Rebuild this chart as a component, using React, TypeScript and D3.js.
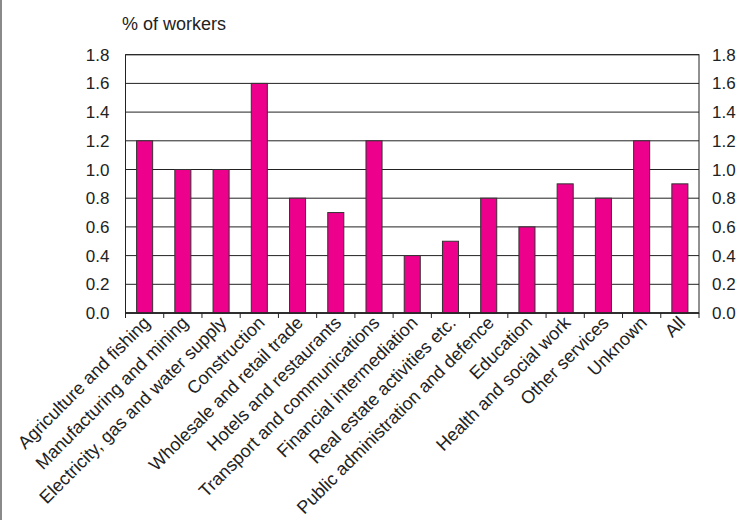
import React from "react";
import * as d3 from "d3";

const categories = [
  "Agriculture and fishing",
  "Manufacturing and mining",
  "Electricity, gas and water supply",
  "Construction",
  "Wholesale and retail trade",
  "Hotels and restaurants",
  "Transport and communications",
  "Financial intermediation",
  "Real estate activities etc.",
  "Public administration and defence",
  "Education",
  "Health and social work",
  "Other services",
  "Unknown",
  "All",
];
const values = [1.2, 1.0, 1.0, 1.6, 0.8, 0.7, 1.2, 0.4, 0.5, 0.8, 0.6, 0.9, 0.8, 1.2, 0.9];
const yTicks = [0, 0.2, 0.4, 0.6, 0.8, 1.0, 1.2, 1.4, 1.6, 1.8];
const yTitle = "% of workers";

const W = 745;
const H = 520;
const left = 125.5;
const right = 699;
const top = 54.7;
const bottom = 313;

export default function App() {
  const x = d3.scaleBand<string>().domain(categories).range([left, right]).paddingInner(0.58).paddingOuter(0.29);
  const xb = d3.scaleBand<string>().domain(categories).range([left, right]);
  const y = d3.scaleLinear().domain([0, 1.8]).range([bottom, top]);
  const font = "'Liberation Sans', Arial, sans-serif";
  return (
    <svg width={W} height={H} style={{ position: "absolute", left: 0, top: 0 }} fontFamily={font}>
      <rect x={0} y={0} width={W} height={H} fill="#fff" />
      <line x1={1} y1={0} x2={1} y2={H} stroke="#8a8a8a" strokeWidth={2} />
      <text x={122} y={30} fontSize={18} fill="#222">{yTitle}</text>
      {yTicks.map((t) => (
        <g key={t}>
          <line x1={left} x2={right} y1={y(t)} y2={y(t)} stroke="#222" strokeWidth={1} />
          <text x={109.5} y={y(t) + 6} fontSize={17} textAnchor="end" fill="#222">{t.toFixed(1)}</text>
          <text x={712} y={y(t) + 6} fontSize={17} textAnchor="start" fill="#222">{t.toFixed(1)}</text>
        </g>
      ))}
      <rect x={left} y={top} width={right - left} height={bottom - top} fill="none" stroke="#222" strokeWidth={1} />
      {categories.map((c, i) => (
        <rect key={c} x={x(c)} y={y(values[i])} width={x.bandwidth()} height={bottom - y(values[i])}
          fill="#EC008C" stroke="#333" strokeWidth={1} />
      ))}
      <line x1={left} x2={right} y1={bottom} y2={bottom} stroke="#222" strokeWidth={1.5} />
      {categories.map((c) => (
        <line key={c + "t"} x1={xb(c)} x2={xb(c)} y1={bottom} y2={bottom + 5} stroke="#222" />
      ))}
      <line x1={right} x2={right} y1={bottom} y2={bottom + 5} stroke="#222" />
      {categories.map((c) => {
        const cx = (xb(c) as number) + xb.bandwidth() / 2 + 6.5;
        const cy = bottom + 11;
        return (
          <text key={c + "l"} x={cx} y={cy} fontSize={18} textAnchor="end" fill="#222"
            transform={`rotate(-45 ${cx} ${cy})`}>{c}</text>
        );
      })}
    </svg>
  );
}
